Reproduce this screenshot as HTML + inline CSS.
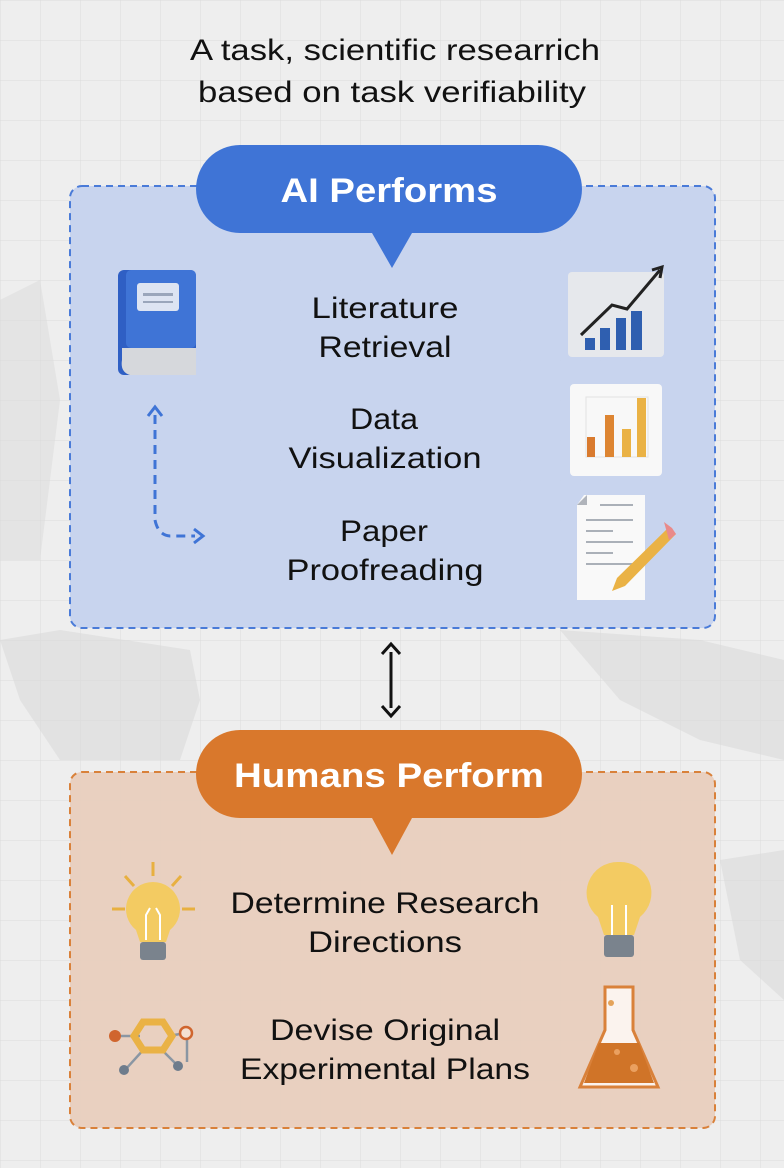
<!DOCTYPE html>
<html><head><meta charset="utf-8"><style>
html,body{margin:0;padding:0;width:784px;height:1168px;overflow:hidden;background:#ececec}
svg text{font-family:"Liberation Sans",sans-serif}
</style></head><body>
<svg width="784" height="1168" viewBox="0 0 784 1168" xmlns="http://www.w3.org/2000/svg">
<defs>
<pattern id="g" width="40" height="40" patternUnits="userSpaceOnUse"><path d="M40 0H0V40" fill="none" stroke="#dcdcdc" stroke-width="1"/></pattern>
</defs>
<rect width="784" height="1168" fill="#eeeeee"/>
<rect width="784" height="1168" fill="url(#g)"/>
<path d="M0 640 L60 630 L190 650 L200 700 L180 760 L60 760 L20 700Z" fill="#dadada" opacity=".6"/>
<path d="M560 630 L700 640 L784 660 L784 760 L700 740 L620 700Z" fill="#dadada" opacity=".6"/>
<path d="M720 860 L784 850 L784 1000 L740 960Z" fill="#dadada" opacity=".6"/>
<path d="M0 300 L40 280 L60 400 L40 560 L0 560Z" fill="#dadada" opacity=".5"/>

<g font-size="30" fill="#111" text-anchor="middle" lengthAdjust="spacingAndGlyphs">
<text x="395" y="60" textLength="410" lengthAdjust="spacingAndGlyphs">A task, scientific researrich</text>
<text x="392" y="102" textLength="388" lengthAdjust="spacingAndGlyphs">based on task verifiability</text>
</g>

<rect x="70" y="186" width="645" height="442" rx="12" fill="#c4d1ee" fill-opacity=".92" stroke="#4a7bd8" stroke-width="2" stroke-dasharray="7 5"/>
<path d="M240 145 H538 A44 44 0 0 1 538 233 H412 L392 268 L372 233 H240 A44 44 0 0 1 240 145Z" fill="#3f74d6"/>
<text x="389" y="202" text-anchor="middle" font-size="34" font-weight="bold" fill="#fff" textLength="217" lengthAdjust="spacingAndGlyphs">AI Performs</text>

<g font-size="30" fill="#111" text-anchor="middle">
<text x="385" y="318" textLength="147" lengthAdjust="spacingAndGlyphs">Literature</text><text x="385" y="357" textLength="133" lengthAdjust="spacingAndGlyphs">Retrieval</text>
<text x="384" y="429" textLength="68" lengthAdjust="spacingAndGlyphs">Data</text><text x="385" y="468" textLength="193" lengthAdjust="spacingAndGlyphs">Visualization</text>
<text x="384" y="541" textLength="88" lengthAdjust="spacingAndGlyphs">Paper</text><text x="385" y="580" textLength="197" lengthAdjust="spacingAndGlyphs">Proofreading</text>
</g>

<rect x="118" y="270" width="78" height="105" rx="6" fill="#2f5fc4"/>
<rect x="126" y="270" width="70" height="78" rx="5" fill="#3f74d6"/>
<path d="M122 348 H196 V375 H130 Q120 372 122 360Z" fill="#d6d8dc"/>
<rect x="137" y="283" width="42" height="28" rx="3" fill="#dde4f2"/>
<rect x="143" y="293" width="30" height="3" fill="#9aa6bb"/><rect x="143" y="301" width="30" height="2" fill="#9aa6bb"/>
<path d="M155 415 V520 Q158 535 170 536 H195" fill="none" stroke="#3f74d6" stroke-width="3" stroke-dasharray="9 6"/>
<path d="M148 416 L155 407 L162 416" fill="none" stroke="#3f74d6" stroke-width="3"/>
<path d="M194 529 L203 536 L194 543" fill="none" stroke="#3f74d6" stroke-width="3"/>

<rect x="568" y="272" width="96" height="85" rx="4" fill="#e6e8ec"/>
<rect x="585" y="338" width="10" height="12" fill="#2f5fb0"/><rect x="600" y="328" width="10" height="22" fill="#2f5fb0"/><rect x="616" y="318" width="10" height="32" fill="#2f5fb0"/><rect x="631" y="311" width="11" height="39" fill="#2f5fb0"/>
<path d="M581 335 L612 305 L627 309 L660 270" fill="none" stroke="#222" stroke-width="3"/>
<path d="M652 270 L662 267 L660 278" fill="none" stroke="#222" stroke-width="3"/>
<rect x="570" y="384" width="92" height="92" rx="4" fill="#f8f8f8"/>
<rect x="586" y="397" width="62" height="60" fill="none" stroke="#e2e2e2"/>
<rect x="587" y="437" width="8" height="20" fill="#d97a2e"/><rect x="605" y="415" width="9" height="42" fill="#dd8532"/><rect x="622" y="429" width="9" height="28" fill="#eab245"/><rect x="637" y="398" width="9" height="59" fill="#eab245"/>
<path d="M584 495 H645 V600 H577 V505Z" fill="#f9f9f9"/>
<path d="M577 505 L587 495 V505Z" fill="#b0b4bb"/>
<g stroke="#aab0b8" stroke-width="2"><line x1="600" y1="505" x2="633" y2="505"/><line x1="586" y1="520" x2="633" y2="520"/><line x1="586" y1="531" x2="613" y2="531"/><line x1="586" y1="542" x2="633" y2="542"/><line x1="586" y1="553" x2="613" y2="553"/><line x1="586" y1="564" x2="633" y2="564"/></g>
<path d="M669 527 L676 534 L625 586 L612 591 L617 578Z" fill="#eab245"/>
<path d="M664 522 L672 528 L676 534 L669 540Z" fill="#e98a8a"/>

<line x1="391" y1="652" x2="391" y2="708" stroke="#111" stroke-width="3"/>
<path d="M382 654 L391 644 L400 654" fill="none" stroke="#111" stroke-width="3"/>
<path d="M382 706 L391 716 L400 706" fill="none" stroke="#111" stroke-width="3"/>

<rect x="70" y="772" width="645" height="356" rx="12" fill="#e8cdbd" fill-opacity=".95" stroke="#d9813a" stroke-width="2" stroke-dasharray="7 5"/>
<path d="M240 730 H538 A44 44 0 0 1 538 818 H412 L392 855 L372 818 H240 A44 44 0 0 1 240 730Z" fill="#d9782c"/>
<text x="389" y="787" text-anchor="middle" font-size="34" font-weight="bold" fill="#fff" textLength="310" lengthAdjust="spacingAndGlyphs">Humans Perform</text>

<g font-size="30" fill="#111" text-anchor="middle">
<text x="385" y="913" textLength="309" lengthAdjust="spacingAndGlyphs">Determine Research</text><text x="385" y="952" textLength="154" lengthAdjust="spacingAndGlyphs">Directions</text>
<text x="385" y="1040" textLength="230" lengthAdjust="spacingAndGlyphs">Devise Original</text><text x="385" y="1079" textLength="290" lengthAdjust="spacingAndGlyphs">Experimental Plans</text>
</g>

<g stroke="#e8b040" stroke-width="3"><line x1="153" y1="862" x2="153" y2="876"/><line x1="125" y1="876" x2="134" y2="886"/><line x1="181" y1="876" x2="172" y2="886"/><line x1="112" y1="909" x2="125" y2="909"/><line x1="182" y1="909" x2="195" y2="909"/></g>
<path d="M153 882 A27 27 0 0 1 170 930 L166 942 H140 L136 930 A27 27 0 0 1 153 882Z" fill="#f3cb62"/>
<path d="M146 940 V915 L150 908 M160 940 V915 L156 908" stroke="#fff" stroke-width="2" fill="none"/>
<rect x="140" y="942" width="26" height="18" rx="3" fill="#7a838d"/>
<path d="M619 862 A31 31 0 0 1 640 917 L634 935 H604 L598 917 A31 31 0 0 1 619 862Z" fill="#f3cb62"/>
<path d="M612 935 V905 M626 935 V905" stroke="#fff" stroke-width="2"/>
<rect x="604" y="935" width="30" height="22" rx="3" fill="#7a838d"/>
<g stroke="#8a96a3" stroke-width="2.5"><line x1="117" y1="1036" x2="140" y2="1036"/><line x1="168" y1="1036" x2="186" y2="1033"/><line x1="145" y1="1048" x2="125" y2="1070"/><line x1="160" y1="1048" x2="178" y2="1066"/><line x1="187" y1="1040" x2="187" y2="1062"/></g>
<polygon points="143,1022 163,1022 172,1036 163,1050 143,1050 134,1036" fill="none" stroke="#eab245" stroke-width="7"/>
<circle cx="115" cy="1036" r="6" fill="#d0652e"/><circle cx="186" cy="1033" r="6" fill="#f4e0d2" stroke="#d0652e" stroke-width="2.5"/><circle cx="124" cy="1070" r="5" fill="#6e7c8c"/><circle cx="178" cy="1066" r="5" fill="#6e7c8c"/>
<path d="M605 987 H633 V1030 L658 1087 H580 L605 1030Z" fill="#fbf3ee" stroke="#d9813a" stroke-width="3"/>
<path d="M599 1043 H639 L654 1083 H584Z" fill="#d07428"/>
<circle cx="617" cy="1052" r="3" fill="#eaa060"/><circle cx="634" cy="1068" r="4" fill="#eaa060"/><circle cx="611" cy="1003" r="3" fill="#e4a35a"/>
</svg>
</body></html>
